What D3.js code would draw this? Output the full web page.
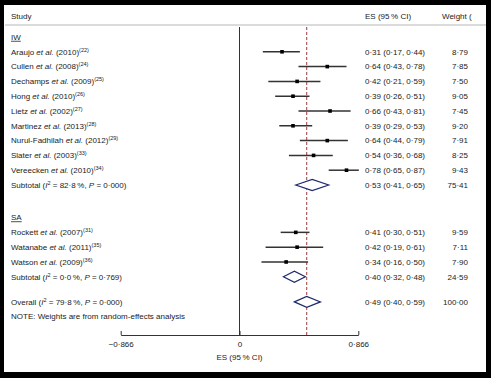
<!DOCTYPE html>
<html>
<head>
<meta charset="utf-8">
<script src="https://cdn.jsdelivr.net/npm/d3@7"></script>
<style>
  html, body { margin: 0; padding: 0; background: #000; }
  svg { display: block; }
  text { font-family: "Liberation Sans", Arial, Helvetica, sans-serif; }
</style>
</head>
<body>
<script>
// ---------------- DATA ----------------
const iwStudies = ["Araujo", "Cullen", "Dechamps", "Hong", "Lietz", "Martinez", "Nurul-Fadhilah", "Slater", "Vereecken"];
const iwYears   = [2010, 2008, 2009, 2010, 2002, 2013, 2012, 2003, 2010];
const iwRefs    = [22, 24, 25, 26, 27, 28, 29, 33, 34];
const iwES      = [0.31, 0.64, 0.42, 0.39, 0.66, 0.39, 0.64, 0.54, 0.78];
const iwLo      = [0.17, 0.43, 0.21, 0.26, 0.43, 0.29, 0.44, 0.36, 0.65];
const iwHi      = [0.44, 0.78, 0.59, 0.51, 0.81, 0.53, 0.79, 0.68, 0.87];
const iwWeight  = [8.79, 7.85, 7.50, 9.05, 7.45, 9.20, 7.91, 8.25, 9.43];

const saStudies = ["Rockett", "Watanabe", "Watson"];
const saYears   = [2007, 2011, 2009];
const saRefs    = [31, 35, 36];
const saES      = [0.41, 0.42, 0.34];
const saLo      = [0.30, 0.19, 0.16];
const saHi      = [0.51, 0.61, 0.50];
const saWeight  = [9.59, 7.11, 7.90];

// subtotal / overall: [es, lo, hi, weight, I2, P]
const iwSubtotal = [0.53, 0.41, 0.65, 75.41, 82.8, 0.000];
const saSubtotal = [0.40, 0.32, 0.48, 24.59, 0.0, 0.769];
const overall    = [0.49, 0.40, 0.59, 100.00, 79.8, 0.000];

const groupLabels = ["IW", "SA"];
const xTicks = [-0.866, 0, 0.866];
const headers = ["Study", "ES (95\u2009% CI)", "Weight ("];
const axisTitle = "ES (95\u2009% CI)";
const noteText = "NOTE: Weights are from random-effects analysis";

// ---------------- LAYOUT ----------------
const W = 491, H = 378;
const dot = s => s.replace(/\./g, "\u00b7");
const f2 = v => dot(d3.format(".2f")(v));
const f1 = v => dot(d3.format(".1f")(v));
const f3 = v => dot(d3.format(".3f")(v));

const svg = d3.select("body").append("svg").attr("width", W).attr("height", H);
svg.append("rect").attr("x", 0).attr("y", 0).attr("width", W).attr("height", H).attr("fill", "#000");
svg.append("rect").attr("x", 4).attr("y", 5).attr("width", 482).attr("height", 367).attr("fill", "#fff");

const x = d3.scaleLinear().domain([-0.866, 0.866]).range([120.7, 358.3]);
const y = d3.scaleLinear().domain([0, 1]).range([37, 51.8]);

// build rows (slot positions)
const rows = [];
rows.push({type: "group", label: groupLabels[0], slot: 0});
iwStudies.forEach((s, i) => rows.push({type: "study", name: s, year: iwYears[i], ref: iwRefs[i],
  es: iwES[i], lo: iwLo[i], hi: iwHi[i], w: iwWeight[i], slot: i + 1}));
rows.push({type: "sub", label: "Subtotal", d: iwSubtotal, slot: 10});
rows.push({type: "group", label: groupLabels[1], slot: 12.2});
saStudies.forEach((s, i) => rows.push({type: "study", name: s, year: saYears[i], ref: saRefs[i],
  es: saES[i], lo: saLo[i], hi: saHi[i], w: saWeight[i], slot: 13.2 + i}));
rows.push({type: "sub", label: "Subtotal", d: saSubtotal, slot: 16.2});
rows.push({type: "sub", label: "Overall", d: overall, slot: 17.9});
rows.push({type: "note", label: noteText, slot: 18.85});

const textCol = "#222";
const fs = 8;
const labelX = 11, esX = 365, wX = 468;
const axisY = 335, headerLineY = 25;

// header
svg.append("text").attr("x", labelX).attr("y", 19).attr("font-size", fs).attr("fill", textCol).text(headers[0]);
svg.append("text").attr("x", esX).attr("y", 19).attr("font-size", fs).attr("fill", textCol).text(headers[1]);
svg.append("text").attr("x", 442).attr("y", 19).attr("font-size", fs).attr("fill", textCol).text(headers[2]);
svg.append("line").attr("x1", 5).attr("x2", 486).attr("y1", headerLineY).attr("y2", headerLineY)
  .attr("stroke", "#cfcfcf").attr("stroke-width", 1.5);

// zero line
svg.append("line").attr("x1", x(0)).attr("x2", x(0)).attr("y1", headerLineY + 2).attr("y2", axisY)
  .attr("stroke", "#333").attr("stroke-width", 1);
// overall dashed line
svg.append("line").attr("x1", x(overall[0])).attr("x2", x(overall[0])).attr("y1", headerLineY + 2).attr("y2", axisY)
  .attr("stroke", "#9b3a3a").attr("stroke-width", 1).attr("stroke-dasharray", "3,2");

// rows
rows.forEach(r => {
  const yy = y(r.slot);
  const t = svg.append("text").attr("x", labelX).attr("y", yy).attr("dy", "0.35em")
    .attr("font-size", fs).attr("fill", textCol);
  if (r.type === "group") {
    t.attr("text-decoration", "underline").text(r.label);
  } else if (r.type === "note") {
    t.text(r.label);
  } else if (r.type === "study") {
    t.append("tspan").text(r.name + " ");
    t.append("tspan").attr("font-style", "italic").text("et al.");
    t.append("tspan").text(" (" + r.year + ")");
    t.append("tspan").attr("font-size", 5.5).attr("dy", -3).text("(" + r.ref + ")");
    // CI line
    svg.append("line").attr("x1", x(r.lo)).attr("x2", x(r.hi)).attr("y1", yy).attr("y2", yy)
      .attr("stroke", "#333").attr("stroke-width", 1.5);
    svg.append("rect").attr("x", x(r.es) - 1.8).attr("y", yy - 1.8).attr("width", 3.6).attr("height", 3.6)
      .attr("fill", "#000");
    svg.append("text").attr("x", esX).attr("y", yy).attr("dy", "0.35em").attr("font-size", fs).attr("fill", textCol)
      .text(f2(r.es) + " (" + f2(r.lo) + ", " + f2(r.hi) + ")");
    svg.append("text").attr("x", wX).attr("y", yy).attr("dy", "0.35em").attr("font-size", fs).attr("fill", textCol)
      .attr("text-anchor", "end").text(f2(r.w));
  } else if (r.type === "sub") {
    const [es, lo, hi, w, i2, p] = r.d;
    t.append("tspan").text(r.label + " (");
    t.append("tspan").attr("font-style", "italic").text("I");
    t.append("tspan").attr("font-size", 5.5).attr("dy", -3).text("2");
    t.append("tspan").attr("dy", 3).text(" = " + f1(i2) + "\u2009%, ");
    t.append("tspan").attr("font-style", "italic").text("P");
    t.append("tspan").text(" = " + f3(p) + ")");
    const h = 5.5;
    svg.append("path")
      .attr("d", `M${x(lo)},${yy} L${x(es)},${yy - h} L${x(hi)},${yy} L${x(es)},${yy + h} Z`)
      .attr("fill", "#fff").attr("stroke", "#1f2a6e").attr("stroke-width", 1.2);
    svg.append("text").attr("x", esX).attr("y", yy).attr("dy", "0.35em").attr("font-size", fs).attr("fill", textCol)
      .text(f2(es) + " (" + f2(lo) + ", " + f2(hi) + ")");
    svg.append("text").attr("x", wX).attr("y", yy).attr("dy", "0.35em").attr("font-size", fs).attr("fill", textCol)
      .attr("text-anchor", "end").text(f2(w));
  }
});

// axis
const axis = d3.axisBottom(x).tickValues(xTicks).tickSizeInner(-4).tickSizeOuter(0).tickPadding(6)
  .tickFormat(d => dot(d3.format(".3~f")(d)));
const gAx = svg.append("g").attr("transform", `translate(0,${axisY})`).call(axis);
gAx.select(".domain").attr("stroke", "#333");
gAx.selectAll(".tick line").attr("stroke", "#333");
gAx.selectAll(".tick text").attr("font-size", fs).attr("fill", textCol)
  .attr("font-family", "'Liberation Sans', Arial, sans-serif");

svg.append("text").attr("x", x(0)).attr("y", 360).attr("text-anchor", "middle")
  .attr("font-size", fs).attr("fill", textCol).text(axisTitle);
</script>
</body>
</html>
